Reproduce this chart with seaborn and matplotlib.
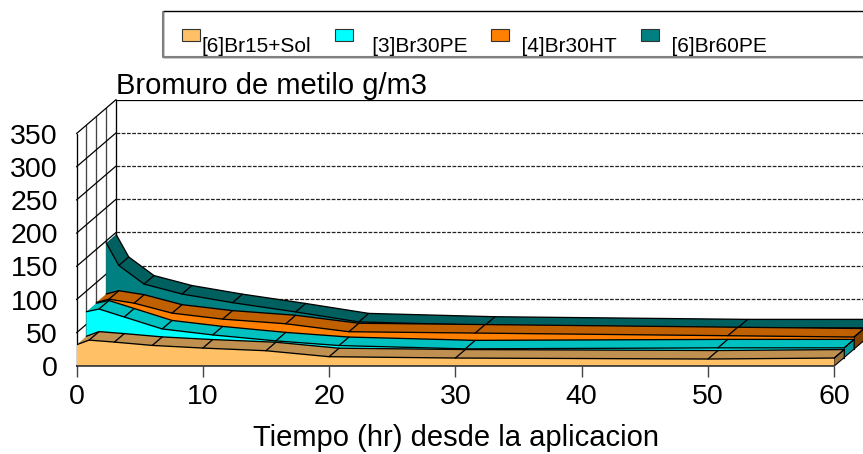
import numpy as np
import pandas as pd
import matplotlib
matplotlib.use("Agg")
import matplotlib.pyplot as plt
from matplotlib.patches import Polygon, Patch, Rectangle
from matplotlib.legend_handler import HandlerPatch
import seaborn as sns

hours = [0, 1, 3, 6, 10, 15, 20, 30, 50, 60]
br15_sol = [32, 39, 36, 31, 27, 23, 14, 12, 10.5, 12]
br30_pe = [69, 73, 61, 43, 34, 25, 18, 13, 14.5, 14.5]
br30_ht = [70, 75, 69, 54, 45, 38, 26, 24, 20, 18]
br60_pe = [147, 113, 85, 70, 57, 43, 28, 23, 19, 19]
series_names = ["[6]Br15+Sol", "[3]Br30PE", "[4]Br30HT", "[6]Br60PE"]
legend_labels = ["[6]Br15+Sol", "   [3]Br30PE", "  [4]Br30HT", "  [6]Br60PE"]
front_colors = ["#FFC066", "#00FFFF", "#FF8000", "#008080"]
top_colors = ["#C09050", "#00C0C0", "#C06000", "#006060"]
side_colors = ["#997340", "#009999", "#804000", "#004D4D"]
y_ticks = [0, 50, 100, 150, 200, 250, 300, 350]
x_ticks = [0, 10, 20, 30, 40, 50, 60]
title_text = "Bromuro de metilo g/m3"
xlabel_text = "Tiempo (hr) desde la aplicacion"

W, H = 863, 454
PX_X, PX_Y = 12.63, 0.664
X0, Y0 = 76.5, 366
DX, DY = 9.9 / PX_X, 8.5 / PX_Y  # depth offset of a series, in data units

sns.set_theme(style="white")
plt.rcParams["font.family"] = ["Liberation Sans", "DejaVu Sans"]
fig = plt.figure(figsize=(W / 100, H / 100), dpi=100)
ax_top = 100
ax = fig.add_axes([X0 / W, 1 - Y0 / H, (W - X0) / W, (Y0 - ax_top) / H])
ax.set_xlim(0, (W - X0) / PX_X)
ax.set_ylim(0, (Y0 - ax_top) / PX_Y)
ax.patch.set_alpha(0)

LW = 0.95
# walls
for d in range(5):
    ax.plot([d * DX, d * DX], [d * DY, 350 + d * DY], color="#444444" if 0 < d < 4 else "black", lw=LW, zorder=1, clip_on=False)
for v in y_ticks:
    ax.plot([0, 4 * DX], [v, v + 4 * DY], color="black", lw=0.9, zorder=1, clip_on=False)
    if v > 0:
        ax.plot([4 * DX, ax.get_xlim()[1]], [v + 4 * DY] * 2, color="#222222" if v < 350 else "black",
                lw=0.9, ls=(0, (3, 1.2)) if v < 350 else "-", zorder=1)

z = 2
all_vals = [br15_sol, br30_pe, br30_ht, br60_pe]
t = np.array(hours, float)
for d in [3, 2, 1, 0]:
    v = np.array(all_vals[d], float)
    fx, fy = t + d * DX, v + d * DY
    bx, by = t + (d + 1) * DX, v + (d + 1) * DY
    # top surface
    for i in range(len(t) - 1):
        ax.add_patch(Polygon([(fx[i], fy[i]), (fx[i + 1], fy[i + 1]), (bx[i + 1], by[i + 1]), (bx[i], by[i])],
                             closed=True, fc=top_colors[d], ec="none", zorder=z))
        if i > 0:
            ax.plot([fx[i], bx[i]], [fy[i], by[i]], color="black", lw=LW, zorder=z + 0.2)
    ax.plot([fx[-1], bx[-1]], [fy[-1], by[-1]], color="black", lw=LW, zorder=z + 0.2)
    # right side
    ax.add_patch(Polygon([(fx[-1], d * DY), (fx[-1], fy[-1]), (bx[-1], by[-1]), (bx[-1], (d + 1) * DY)],
                         closed=True, fc=side_colors[d], ec="black", lw=0.8, zorder=z))
    # front face
    ax.add_patch(Polygon(list(zip(fx, fy)) + [(fx[-1], d * DY), (fx[0], d * DY)],
                         closed=True, fc=front_colors[d], ec="none", zorder=z + 0.1))
    frame = pd.DataFrame({"x": fx, "y": fy})
    sns.lineplot(data=frame, x="x", y="y", sort=False, estimator=None, color="black", lw=LW, ax=ax, zorder=z + 0.3)
    back = pd.DataFrame({"x": bx, "y": by})
    sns.lineplot(data=back, x="x", y="y", sort=False, estimator=None, color="black", lw=LW, ax=ax, zorder=z + 0.3)
    ax.plot([fx[0], fx[-1]], [d * DY, d * DY], color="black", lw=LW, zorder=z + 0.3)
    z += 1

# axes
for s in ["top", "right", "left"]:
    ax.spines[s].set_visible(False)
ax.spines["bottom"].set_bounds(0, 60)
ax.spines["bottom"].set_color("#333333")
ax.spines["bottom"].set_linewidth(1.2)
ax.spines["bottom"].set_zorder(20)
ax.set_xticks(x_ticks)
ax.set_yticks(y_ticks)
ax.tick_params(axis="x", length=7.7, width=1, color="#444444", labelsize=20.5, pad=5.5, labelcolor="black", bottom=True)
ax.tick_params(axis="y", length=0, labelsize=20.5, pad=13.4, labelcolor="black")
ax.set_xlabel(xlabel_text, fontsize=21, color="black", labelpad=9.5, x=(455.5 - X0) / (W - X0))
ax.set_ylabel("")
ax.set_title(title_text, fontsize=21, color="black", loc="left", pad=4.5, x=(116 - X0) / (W - X0))

# legend
fig.add_artist(Rectangle((163 / W, 1 - 56.5 / H), 710 / W, 45.5 / H, transform=fig.transFigure,
                         fc="white", ec="black", lw=1.0))
fig.add_artist(plt.Line2D([163 / W, 163 / W, 863 / W], [1 - 11.5 / H, 1 - 57 / H, 1 - 57 / H],
                          transform=fig.transFigure, color="#808080", lw=1.5))

def raised(legend, orig_handle, xdescent, ydescent, width, height, fontsize):
    return Rectangle((-xdescent, 7.7), width, height, lw=0.8)

handles = [Patch(fc=c, ec="#333333", lw=0.8) for c in front_colors]
leg = fig.legend(handles, legend_labels, ncol=4, frameon=False, loc="lower left", borderpad=0, borderaxespad=0,
                 bbox_to_anchor=(182 / W, 1 - 56 / H), fontsize=15, handlelength=0.865, handleheight=0.53,
                 handletextpad=0.08, columnspacing=1.13, handler_map={Patch: HandlerPatch(patch_func=raised)},
                 labelcolor="black")

fig.savefig("out.png", dpi=100)
